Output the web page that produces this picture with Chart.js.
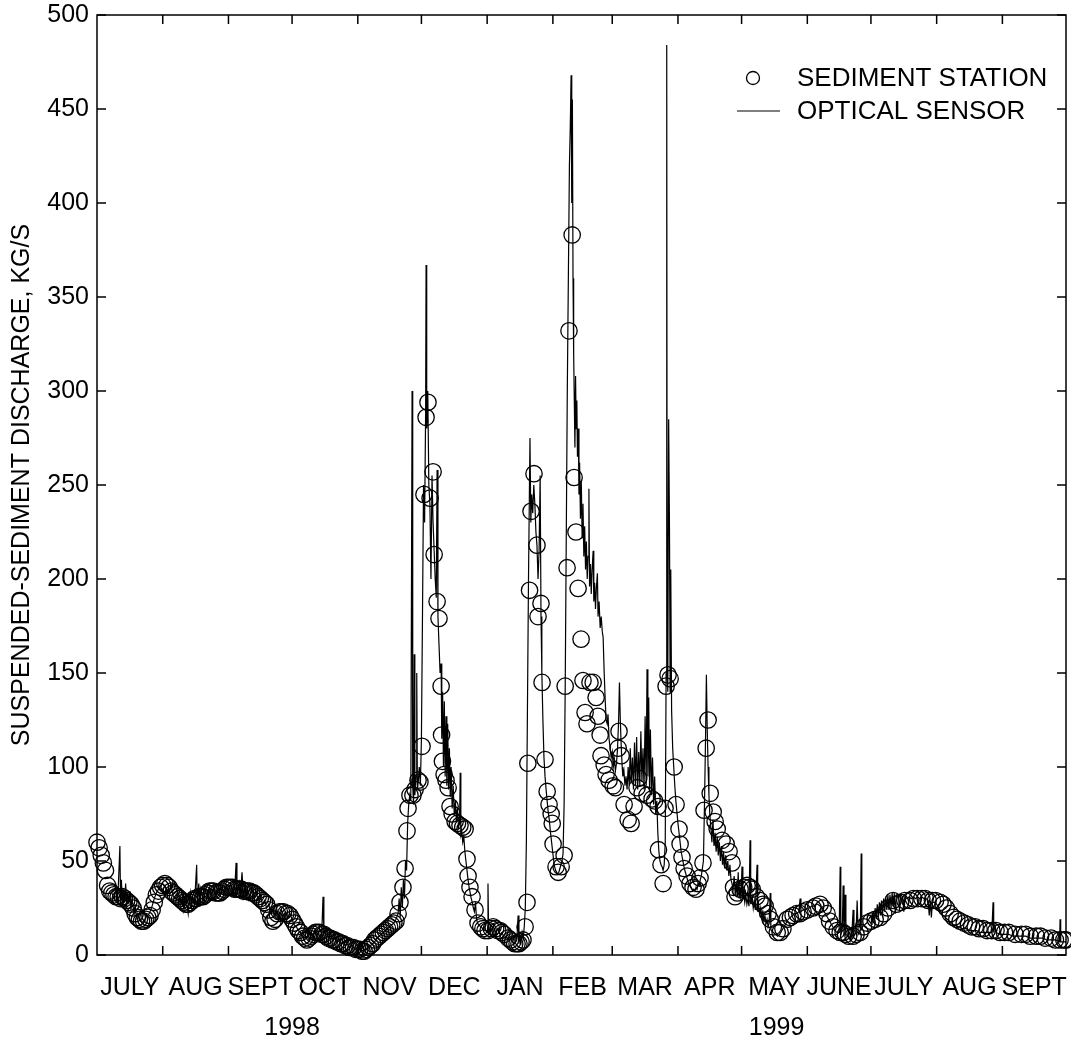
<!DOCTYPE html>
<html><head><meta charset="utf-8">
<script src="https://cdn.jsdelivr.net/npm/chart.js@4.4.0/dist/chart.umd.min.js"></script>
<style>html,body{margin:0;padding:0;background:#fff;}canvas{display:block;}</style>
</head><body>
<canvas id="c" width="1071" height="1038"></canvas>
<script>
// ---- axis categories / tick labels ----
const monthLabels = ['JULY','AUG','SEPT','OCT','NOV','DEC','JAN','FEB','MAR','APR','MAY','JUNE','JULY','AUG','SEPT'];
// days since 1 July 1998 at the start of each month (last = 1 Oct 1999)
const monthStarts = [0,31,62,92,123,153,184,215,243,274,304,335,365,396,427,457];
const yearLabels = ['1998','1999'];
const yearStarts = [0,184,457];
const yTickValues = [0,50,100,150,200,250,300,350,400,450,500];
const yTitle = 'SUSPENDED-SEDIMENT DISCHARGE, KG/S';
const seriesNames = ['SEDIMENT STATION','OPTICAL SENSOR'];

// ---- sediment station (circles): day, kg/s ----
const stationDays = [0,1,2,3,4,5,6,7,8,9,10,11,12,13,14,15,16,17,18,19,20,21,22,23,24,25,26,27,28,29,30,
31,32,33,34,35,36,37,38,39,40,41,42,43,44,45,46,47,48,49,50,51,52,53,54,55,56,57,58,59,60,61,
62,63,64,65,66,67,68,69,70,71,72,73,74,75,76,77,78,79,80,81,82,83,84,85,86,87,88,89,90,91,
92,93,94,95,96,97,98,99,100,101,102,103,104,105,106,107,108,109,110,111,112,113,114,115,116,117,118,119,120,121,122,
123,124,125,126,127,128,129,130,131,132,133,134,135,136,137,138,139,140,141,
142,142.9,144.3,145.3,146.2,146.7,147.6,149,150,151.4,152.3,153.3,154.2,155.2,156.1,157.1,158.5,159,160.4,161.3,162.3,162.5,162.9,163.7,164.6,165.6,166.5,167.5,168.9,170,171.2,172.5,173.6,174.5,175,175.9,176.9,178.3,179.7,181,182,183,
184.5,186,186.8,188,189,190.1,191,192,193.9,195,196,197,198.1,199,200,200.9,201.9,202.8,203.2,204,204.7,206.1,207.5,208,209.4,209.9,211.3,212.3,213.2,214.2,214.7,
215.1,216.5,217.5,218.9,220.3,220.8,221.7,222.6,224.1,225,225.9,226.9,228.3,229.2,230.2,231.1,232.5,234,235.4,236.3,237.3,237.7,239.2,240.1,241.5,
243.4,244.5,245.8,246.2,247.2,248.6,250.5,251.9,253.3,254.7,255.5,257.1,259.4,261.8,263,264.6,264.8,266,267,267.9,268.4,269.3,270.3,272.2,273.1,
274.5,275,275.9,276.9,278.3,279.7,281.1,282.5,283.5,284.4,285.8,286.3,287.3,288.2,289.2,290.6,291.5,292.5,294.8,296.7,298.1,299.5,300.2,300.9,302,303.3,
305,306.6,308,309,311,312.7,314,315.1,316.5,317.5,319,320.8,322.2,323.5,325.5,327,328.3,330,331.5,333,
335,337.7,339,341,342.5,344.3,345.5,347.2,349,350.5,351.9,353,354.5,356.6,358,359.9,361.5,363.2,
365,367,369.3,371,373,375.5,377,379,381,383.5,385,387,389,390.6,392,394,
395.5,397.6,399,400.5,402.4,404,405.5,407.1,409,411,412.5,414.2,416,418,419.8,422,424,425.9,
428,430,433,436,438,440.1,443,445,447.2,450,452,454.2,456,457];
const stationValues = [60,57,53,49,45,37,34,33,32,31,31,30,31,30,29,28,27,25,22,20,19,18,18,19,20,21,24,28,32,34,36,
37,38,37,36,34,33,32,31,30,29,28,27,27,28,29,30,30,31,31,31,32,33,34,34,34,33,33,33,34,35,36,
36,36,36,35,35,35,35,34,34,34,34,33,33,32,31,30,29,28,27,24,20,18,19,22,23,23,23,22,22,21,
19,17,15,13,12,10,9,8,9,10,11,12,12,12,11,11,10,9,9,8,8,7,7,6,6,5,5,4,4,4,3,
3,3,2,2,3,4,5,6,8,9,10,11,12,13,14,15,16,17,18,
22,28,36,46,66,78,85,85,88,93,92,111,245,286,294,243,257,213,188,179,143,117,103,96,93,89,79,75,71,70,69,68,67,51,42,36,31,24,17,15,14,13,
13,14,15,14,13,13,12,11,9,8,7,6,6,6,7,8,15,28,102,194,236,256,218,180,187,145,104,87,80,75,70,
59,47,44,47,53,143,206,332,383,254,225,195,168,146,129,123,145,145,137,127,117,106,101,96,93,
90,89,110,119,106,80,72,70,79,89,94,86,85,83,82,79,56,48,38,78,143,149,147,100,80,
67,59,52,46,42,38,36,35,38,41,49,77,110,125,86,76,71,67,61,59,55,49,36,31,33,35,
36,37,36,35,31,29,27,26,22,19,15,12,12,14,19,20,21,22,22,23,
24,25,26,27,25,22,18,15,13,12,12,11,10,10,11,12,15,17,
18,19,20,22,25,29,27,28,29,29,30,30,30,30,29,29,
29,28,27,25,22,20,19,18,17,16,15,15,14,14,13,13,13,12,
12,12,11,11,11,10,10,10,9,9,8,8,8,8];

// ---- optical sensor (line): day, kg/s ----
const sensorDays = [7,8,9,9.5,10,10.8,11.1,11.5,12,12.5,13,13.5,14,14.5,15,15.5,16,16.5,17,17.5,18,18.5,19,20,21,22,23,24,25,26,27,28,29,30,31,
32,33,34,35,36,37,38,38.5,39,40,40.5,41,42,43,43.5,44,44.5,45,46,47,47.3,48,48.5,49,50,51,52,53,54,55,56,57,58,59,60,61,62,
63,64,65,65.6,66,67,67.5,68.4,69,70,70.5,71,72,73,74,75,76,77,78,79,80,81,82,83,84,85,86,87,88,89,90,91,
92,93,94,95,96,97,98,99,100,101,102,103,104,105,106,106.6,107,108,109,110,111,112,113,114,115,116,117,118,119,120,121,122,123,
124,125,126,127,128,129,130,131,132,133,134,135,136,137,138,139,140,141,142,142.5,143,143.5,144,144.5,145,145.5,146,146.5,147,147.5,148,
148.6,148.9,149.3,149.6,149.9,150.5,150.8,151.1,151.5,152,152.5,153,153.5,154,154.5,155,155.2,155.5,156,156.5,157,157.5,158,158.5,159,159.5,160,
160.4,160.8,161.3,161.8,162.3,162.6,163,163.4,163.8,164.2,164.6,165,165.4,165.8,166.2,166.6,167,167.5,168,168.5,169,169.5,170,170.5,171,171.3,171.6,
172,172.5,173,173.5,174,174.5,175,175.5,176,176.5,177,177.5,178,178.5,179,179.5,180,181,182,183,184,184.4,184.7,185.5,186,187,188,189,190,191,192,
193,194,195,196,197,198,198.6,199,199.5,200,200.5,201,201.5,202,202.5,203,203.5,204.2,204.6,205,205.5,206,206.5,207,207.5,208,208.5,209,209.4,209.8,
210.3,210.8,211.3,211.8,212.3,212.8,213.3,213.8,214.3,214.8,215.3,215.8,216.3,216.8,217.3,217.8,218.3,218.8,219.3,219.8,220.3,220.8,221.3,221.8,222.3,222.8,
223.2,223.6,223.9,224.2,224.5,224.8,225.1,225.4,225.7,226,226.3,226.6,227,227.3,227.6,228,228.4,228.8,229.2,229.6,230,230.4,230.8,231.2,231.6,232,232.3,232.7,
233.1,233.5,234,234.3,234.7,235.1,235.5,236,236.3,236.8,237.3,237.8,238.3,238.7,239.2,239.7,240.1,240.6,241,241.5,242,242.5,243,243.5,244,244.5,245,245.5,
246,246.4,246.8,247.2,247.7,248,248.5,249,249.5,250,250.5,251,251.5,252,252.5,253,253.5,254,254.5,255,255.5,256,256.5,257,257.5,258,258.5,259,259.4,259.8,
260.2,260.6,261,261.5,262,262.5,263,263.5,264,264.5,265,265.5,266,266.5,267,267.5,268,268.4,268.7,268.9,269.2,269.6,270,270.3,270.6,271,271.5,272,272.5,
273,273.5,274,274.5,275,275.5,276,276.5,277,277.5,278,278.5,279,279.5,280,280.5,281,281.5,282,282.5,283,283.5,284,284.5,285,285.5,286,286.5,287,287.4,
287.8,288.2,288.6,289,289.5,290,290.5,291,291.5,292,292.5,293,293.5,294,294.5,295,295.5,296,296.5,297,297.5,298,298.5,299,299.5,300,300.5,301,301.5,302,
302.4,302.8,303.3,303.7,304.2,304.6,305,305.5,306,306.5,307,307.5,308,308.3,309,309.5,310,310.5,311.3,311.6,312,312.5,313,313.5,314,314.5,315,315.5,316,
316.5,317,317.5,317.8,318,319,320,321,322,323,324,325,326,327,328,329,330,331,331.6,332,333,334,335,336,337,338,339,340,341,342,343,344,345,346,347,348,
349,350,350.5,350.8,351.5,351.9,352.3,352.8,353.2,354,355,355.5,356,356.6,357,358,358.5,359,360,360.4,360.7,361,362,363,364,365,365.5,366,366.5,367,
367.5,368,368.5,369,369.5,370,370.5,371,371.5,372,372.5,373,373.5,374,374.5,375,375.5,376,376.5,377,378,378.5,379,380,380.5,381,382,383,384,385,386,
387,388,389,390,391,392,392.5,393,393.5,394,395,396,397,398,399,400,401,402,403,404,405,406,407,408,409,410,411,412,413,414,415,416,417,418,419,420,
421,422,422.3,422.6,422.9,423.5,424,426,428,430,432,434,436,438,440,442,444,446,448,450,452,454,454.2,454.5,456,457];
const sensorValues = [33,30,36,28,35,58,29,40,26,35,28,38,25,33,27,34,24,30,26,22,27,20,22,19,18,17,20,21,23,26,30,33,35,37,38,
36,35,33,37,31,30,34,26,31,27,33,24,30,22,29,33,25,31,27,48,26,38,27,35,29,34,31,36,32,35,31,34,32,35,33,37,34,
38,33,36,49,32,38,30,44,31,37,29,35,31,36,30,34,29,32,27,29,25,27,22,24,21,23,20,24,21,23,20,22,
19,16,15,13,12,10,9,10,8,11,10,13,11,14,12,31,11,14,9,12,8,10,7,9,6,7,5,6,4,5,4,3,3,
3,2,3,3,4,5,6,7,9,10,11,12,13,14,15,16,17,19,22,30,20,36,25,40,30,50,45,70,80,85,82,
300,90,80,160,85,95,150,88,92,100,90,115,180,250,230,290,367,280,300,250,240,200,255,230,215,200,190,
258,180,165,150,155,115,140,100,135,95,127,90,123,88,110,84,100,78,90,74,82,71,78,68,70,97,64,
66,60,63,55,50,45,40,36,33,30,28,25,23,28,19,17,16,15,14,13,13,38,12,14,13,15,12,14,11,12,9,
10,8,9,7,6,8,21,6,10,7,12,9,15,25,60,130,200,275,230,245,235,250,240,225,218,200,215,255,180,150,
125,105,95,88,82,76,72,66,61,56,51,47,45,44,43,44,46,48,50,54,80,140,220,300,360,420,
440,468,400,455,360,320,295,270,308,280,295,265,280,245,262,232,252,222,240,212,228,205,220,200,212,248,196,208,
192,205,215,188,198,184,195,203,180,188,174,180,172,169,150,135,125,123,128,115,110,105,108,100,104,98,102,110,
125,145,125,112,100,95,98,90,95,88,100,90,110,92,105,88,113,90,116,88,108,90,119,92,110,88,127,90,152,95,
137,88,120,85,105,80,95,75,82,65,55,50,48,47,45,48,60,150,484,150,140,285,226,140,205,130,110,100,90,
82,76,70,65,60,55,52,49,46,44,42,40,38,37,36,35,34,35,34,36,35,38,37,40,42,46,50,80,115,149,
120,100,85,75,68,60,72,58,65,55,63,53,60,50,58,48,55,46,53,45,50,42,48,40,38,35,42,32,38,31,
44,30,36,29,47,30,33,28,32,27,30,26,61,27,31,25,29,24,48,23,27,22,25,20,23,18,21,17,19,
15,17,33,14,13,12,11,10,11,13,15,17,19,20,21,22,22,23,30,23,24,24,25,25,26,26,27,27,26,25,23,21,19,17,15,13,
12,12,47,11,14,37,10,32,11,10,12,8,11,24,10,12,29,11,13,54,13,15,16,17,19,21,16,23,17,25,
19,27,20,28,21,29,22,30,23,31,24,32,24,32,25,33,26,33,22,32,31,24,32,31,23,31,30,31,30,31,30,
31,30,31,30,30,29,21,29,20,28,28,27,25,23,21,20,19,18,17,16,16,15,15,14,14,14,13,13,13,13,13,12,12,12,12,12,
12,12,20,28,12,16,12,11,11,11,10,10,10,10,9,9,9,9,8,8,8,7,19,7,7,7];

const FONT = '"Liberation Sans", Arial, Helvetica, sans-serif';
const FS = 25;

function mids(arr){ const m=[]; for(let i=0;i<arr.length-1;i++) m.push((arr[i]+arr[i+1])/2); return m; }
const monthMid = mids(monthStarts);
const yearMid = mids(yearStarts);

function noPad(s){ s.paddingLeft=0; s.paddingRight=0; s.paddingTop=0; s.paddingBottom=0; }

const framePlugin = {
  id:'frame',
  afterDraw(chart){
    const {ctx, chartArea:a, scales} = chart;
    ctx.save();
    ctx.strokeStyle='#000'; ctx.lineWidth=1.5;
    ctx.strokeRect(a.left, a.top, a.right-a.left, a.bottom-a.top);
    const L=9;
    ctx.beginPath();
    yTickValues.forEach(v=>{
      const py=scales.y.getPixelForValue(v);
      ctx.moveTo(a.left,py); ctx.lineTo(a.left+L,py);
      ctx.moveTo(a.right,py); ctx.lineTo(a.right-L,py);
    });
    monthStarts.slice(1,-1).forEach(d=>{
      const px=scales.x.getPixelForValue(d);
      ctx.moveTo(px,a.bottom); ctx.lineTo(px,a.bottom-L);
      ctx.moveTo(px,a.top); ctx.lineTo(px,a.top+L);
    });
    ctx.stroke();
    // legend
    ctx.font = '26px '+FONT; ctx.fillStyle='#000'; ctx.textBaseline='middle'; ctx.textAlign='left';
    ctx.lineWidth=1.3;
    ctx.beginPath(); ctx.arc(753,78,6.5,0,Math.PI*2); ctx.stroke();
    ctx.fillText(seriesNames[0],797,79);
    ctx.lineWidth=1.1;
    ctx.beginPath(); ctx.moveTo(737,111); ctx.lineTo(780,111); ctx.stroke();
    ctx.fillText(seriesNames[1],797,112);
    ctx.restore();
  }
};

new Chart(document.getElementById('c'), {
  type:'scatter',
  data:{datasets:[
    {label:seriesNames[0], data:stationDays.map((d,i)=>({x:d,y:stationValues[i]})), showLine:false,
     pointStyle:'circle', pointRadius:8.2, pointHoverRadius:8.2, pointBorderWidth:1.3, borderWidth:1.3,
     borderColor:'#000', backgroundColor:'rgba(0,0,0,0)', clip:false},
    {label:seriesNames[1], type:'line', data:sensorDays.map((d,i)=>({x:d,y:sensorValues[i]})),
     borderColor:'#000', borderWidth:1.2, pointRadius:0, fill:false, tension:0}
  ]},
  options:{
    responsive:false, animation:false, events:[],
    layout:{autoPadding:false, padding:{top:15,right:5,left:0,bottom:0}},
    plugins:{legend:{display:false}, tooltip:{enabled:false}},
    scales:{
      x:{type:'linear', min:0, max:457, position:'bottom',
         grid:{display:false, drawTicks:false}, border:{display:false},
         afterBuildTicks:s=>{ s.ticks = monthMid.map(v=>({value:v})); },
         afterFit:s=>{ s.height=45; noPad(s); },
         ticks:{autoSkip:false, maxRotation:0, minRotation:0, padding:18, color:'#000',
                font:{family:FONT,size:FS}, callback:(v,i)=>monthLabels[i]}},
      x2:{type:'linear', min:0, max:457, position:'bottom',
         grid:{display:false, drawTicks:false}, border:{display:false},
         afterBuildTicks:s=>{ s.ticks = yearMid.map(v=>({value:v})); },
         afterFit:s=>{ s.height=38; noPad(s); },
         ticks:{autoSkip:false, maxRotation:0, minRotation:0, padding:13, color:'#000',
                font:{family:FONT,size:FS}, callback:(v,i)=>yearLabels[i]}},
      y:{type:'linear', min:0, max:500,
         grid:{display:false, drawTicks:false}, border:{display:false},
         afterBuildTicks:s=>{ s.ticks = yTickValues.map(v=>({value:v})); },
         afterFit:s=>{ s.width=97; noPad(s); },
         ticks:{padding:8, color:'#000', font:{family:FONT,size:FS}},
         title:{display:true, text:yTitle, color:'#000', font:{family:FONT,size:FS}, padding:{top:7,bottom:0}}}
    }
  },
  plugins:[framePlugin]
});
</script>
</body></html>
